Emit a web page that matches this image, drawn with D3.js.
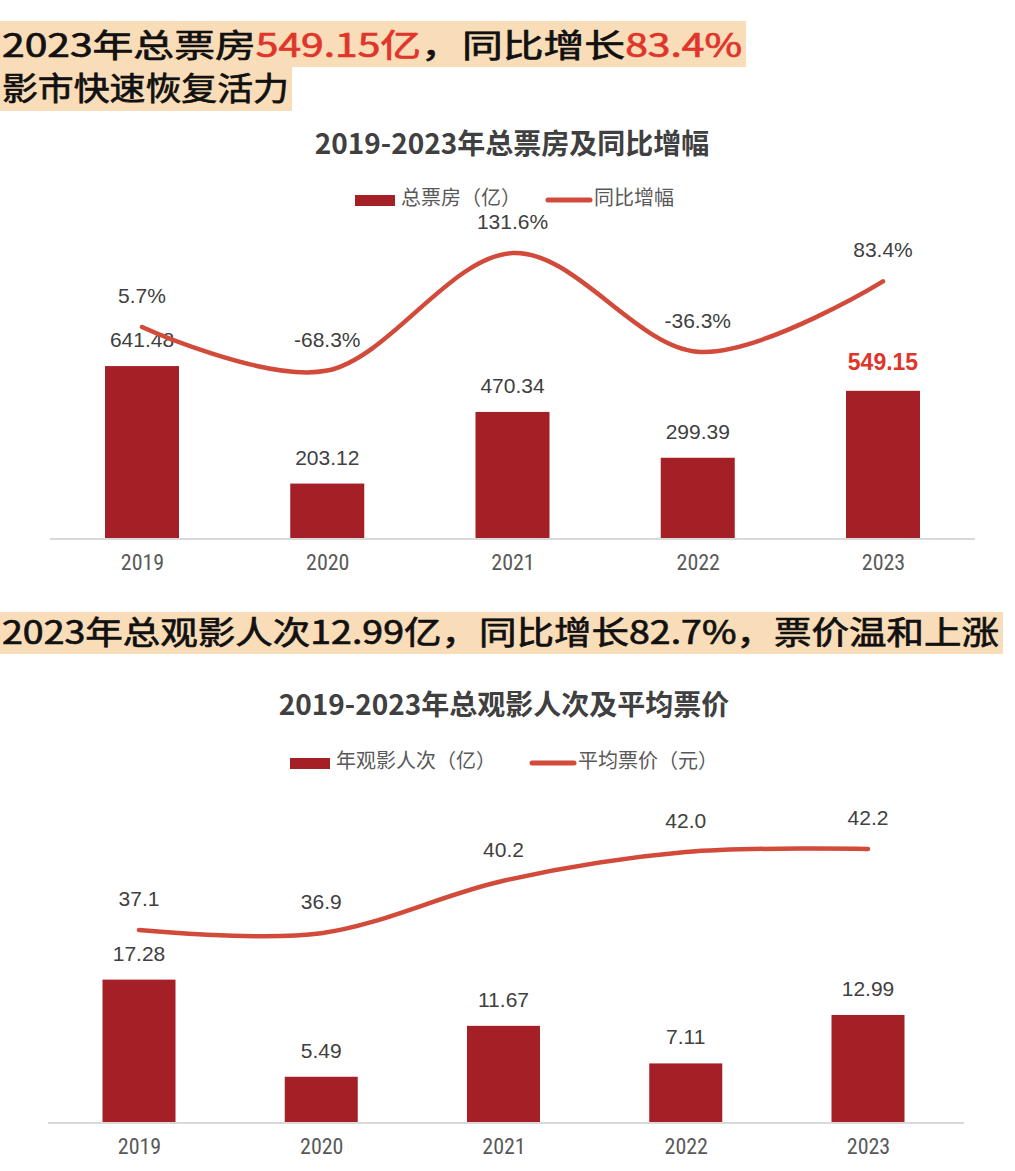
<!DOCTYPE html>
<html><head><meta charset="utf-8">
<script src="https://cdn.jsdelivr.net/npm/d3@7"></script>
<style>body{margin:0;background:#fff}svg{display:block}</style>
</head><body>
<script>
const years = ["2019","2020","2021","2022","2023"];
const boxOffice = [641.48, 203.12, 470.34, 299.39, 549.15];
const boxOfficeGrowth = [5.7, -68.3, 131.6, -36.3, 83.4];
const admissions = [17.28, 5.49, 11.67, 7.11, 12.99];
const avgPrice = [37.1, 36.9, 40.2, 42.0, 42.2];

const W = 1015, H = 1171;
const BAR = "#a51f27", LINE = "#d24a3a", RED = "#e0352b", PEACH = "#f9dcb8";
const CJK = "'Noto Sans CJK SC','Noto Sans',sans-serif";
const NUM = "'Liberation Sans',Arial,sans-serif";
const svg = d3.select("body").append("svg").attr("width", W).attr("height", H);

function header(y, h, bandW, baseline, parts, len) {
  svg.append("rect").attr("x", 0).attr("y", y).attr("width", bandW).attr("height", h).attr("fill", PEACH);
  const t = svg.append("text").attr("x", 2).attr("y", baseline)
    .attr("font-family", CJK).attr("font-size", 32).attr("font-weight", 400)
    .attr("stroke-width", 0.7)
    .attr("textLength", len).attr("lengthAdjust", "spacingAndGlyphs");
  parts.forEach(p => t.append("tspan").attr("fill", p[1] ? RED : "#111").attr("stroke", p[1] ? RED : "#111").text(p[0]));
}
header(21, 46, 746, 57, [["2023年总票房",0],["549.15亿",1],["，同比增长",0],["83.4%",1]], 740);
header(67, 44, 292, 100, [["影市快速恢复活力",0]], 287);
header(612, 42, 1003, 644, [["2023年总观影人次12.99亿，同比增长82.7%，票价温和上涨",0]], 997);

function chart(cfg) {
  const x = d3.scalePoint().domain(years).range(cfg.xr);
  const yb = d3.scaleLinear().domain(cfg.bd).range([cfg.base, cfg.base - cfg.bh]);
  const yl = d3.scaleLinear().domain(cfg.ld).range(cfg.lr);
  // title
  svg.append("text").attr("x", cfg.tx).attr("y", cfg.ty).attr("text-anchor", "middle")
    .attr("font-family", CJK).attr("font-size", 28).attr("font-weight", 700).attr("fill", "#404040").text(cfg.title);
  // legend
  svg.append("rect").attr("x", cfg.lg[0]).attr("y", cfg.lg[1] - 5).attr("width", 40).attr("height", 11).attr("fill", BAR);
  svg.append("text").attr("x", cfg.lg[0] + 46).attr("y", cfg.lg[1] + 5).attr("font-family", CJK).attr("font-size", 20).attr("fill", "#595959").text(cfg.leg[0]);
  svg.append("line").attr("x1", cfg.lg[2]).attr("x2", cfg.lg[2] + 42).attr("y1", cfg.lg[1]).attr("y2", cfg.lg[1])
    .attr("stroke", LINE).attr("stroke-width", 5).attr("stroke-linecap", "round");
  svg.append("text").attr("x", cfg.lg[2] + 46).attr("y", cfg.lg[1] + 5).attr("font-family", CJK).attr("font-size", 20).attr("fill", "#595959").text(cfg.leg[1]);
  // bars
  const bw = cfg.bw;
  svg.append("g").selectAll("rect").data(cfg.bars).join("rect")
    .attr("x", (d, i) => x(years[i]) - bw / 2).attr("y", d => yb(d))
    .attr("width", bw).attr("height", d => cfg.base - yb(d)).attr("fill", BAR);
  // axis
  const ax = svg.append("g").attr("transform", `translate(0,${cfg.base})`)
    .call(d3.axisBottom(x).tickSize(0).tickPadding(16));
  ax.select(".domain").remove();
  svg.append("line").attr("x1", cfg.axr[0]).attr("x2", cfg.axr[1]).attr("y1", cfg.base + 1).attr("y2", cfg.base + 1)
    .attr("stroke", "#d9d9d9").attr("stroke-width", 2);
  ax.selectAll("text").attr("font-family", "'Liberation Sans Narrow','Roboto Condensed','Liberation Sans',sans-serif")
    .attr("font-size", 22).attr("fill", "#595959");
  // bar labels
  svg.append("g").selectAll("text").data(cfg.bars).join("text")
    .attr("x", (d, i) => x(years[i])).attr("y", (d, i) => yb(d) - (cfg.hl === i ? 21 : 19))
    .attr("text-anchor", "middle").attr("font-family", NUM)
    .attr("font-size", (d, i) => cfg.hl === i ? 23 : 21)
    .attr("font-weight", (d, i) => cfg.hl === i ? 700 : 400)
    .attr("fill", (d, i) => cfg.hl === i ? RED : "#404040")
    .text(d => d.toFixed(2));
  // line
  const line = d3.line().x((d, i) => x(years[i])).y(d => yl(d)).curve(d3.curveCardinal.tension(0));
  svg.append("path").datum(cfg.line).attr("d", line).attr("fill", "none")
    .attr("stroke", LINE).attr("stroke-width", 4.5).attr("stroke-linecap", "round");
  svg.append("g").selectAll("text").data(cfg.line).join("text")
    .attr("x", (d, i) => x(years[i])).attr("y", d => yl(d) - 24)
    .attr("text-anchor", "middle").attr("font-family", NUM)
    .attr("font-size", 21).attr("fill", "#404040").text(cfg.fmt);
}

chart({
  title: "2019-2023年总票房及同比增幅", tx: 512, ty: 154,
  leg: ["总票房（亿）", "同比增幅"], lg: [355, 200, 548],
  xr: [142, 883], bw: 74, base: 538, bd: [0, 700], bh: 187.6,
  ld: [-100, 150], lr: [389.2, 242.2], axr: [50, 975],
  bars: boxOffice, line: boxOfficeGrowth, hl: 4, fmt: d => d.toFixed(1) + "%"
});
chart({
  title: "2019-2023年总观影人次及平均票价", tx: 504, ty: 715,
  leg: ["年观影人次（亿）", "平均票价（元）"], lg: [290, 763, 532],
  xr: [139, 868], bw: 73, base: 1122, bd: [0, 20], bh: 164.8,
  ld: [30, 45], lr: [1042.9, 804.4], axr: [48, 964],
  bars: admissions, line: avgPrice, hl: -1, fmt: d => d.toFixed(1)
});
</script>
</body></html>
